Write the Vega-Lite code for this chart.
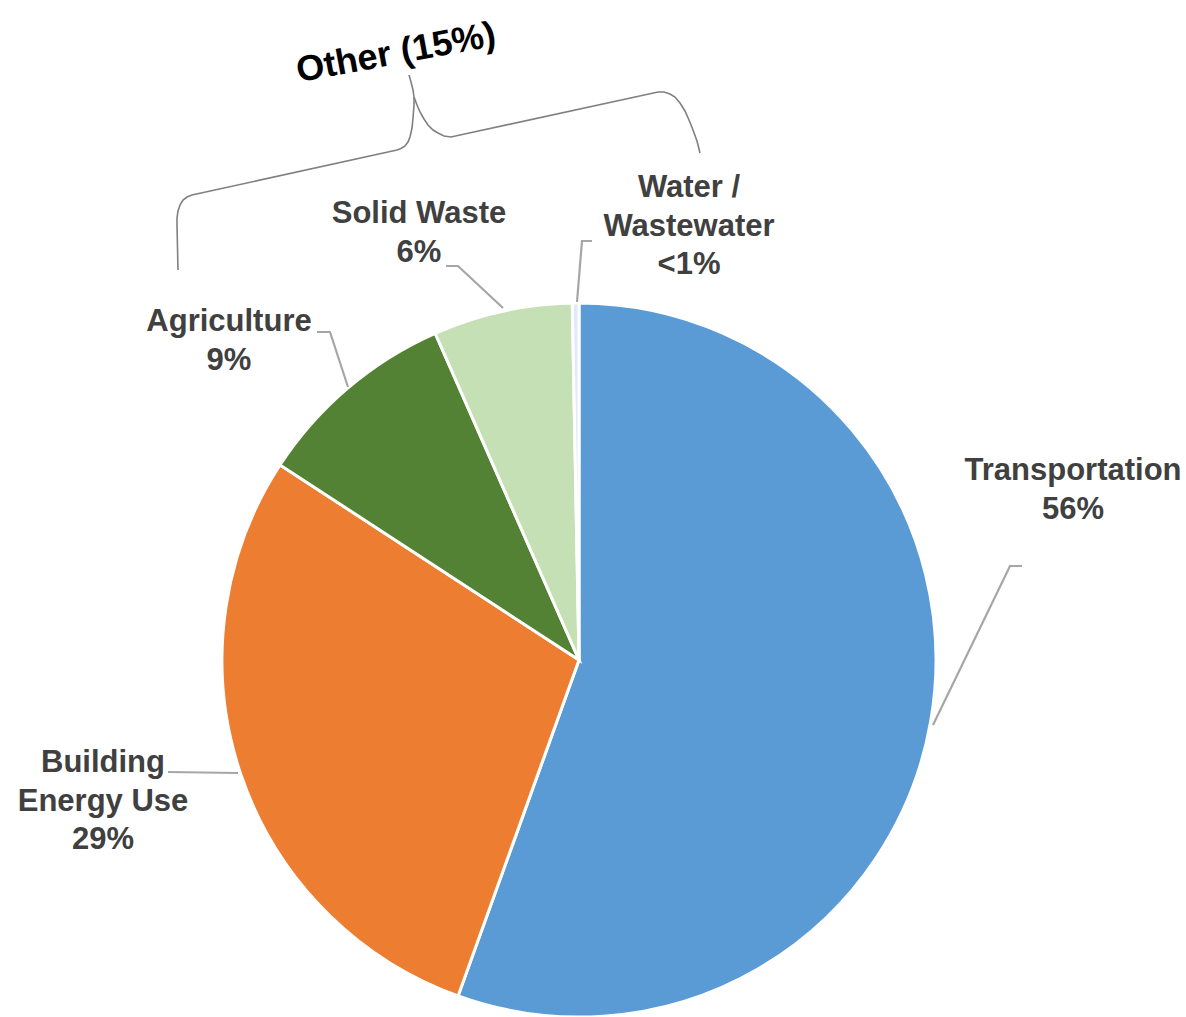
{
  "$schema": "https://vega.github.io/schema/vega-lite/v6.json",
  "autosize": {"type": "none"},
  "width": 1186,
  "height": 1017,
  "padding": 0,
  "background": "white",
  "config": {"view": {"stroke": null}},
  "datasets": {
    "slices": [
      {"sector": "Transportation", "share": 55.5, "rank": 1},
      {"sector": "Building Energy Use", "share": 28.7, "rank": 2},
      {"sector": "Agriculture", "share": 9.2, "rank": 3},
      {"sector": "Solid Waste", "share": 6.3, "rank": 4},
      {"sector": "Water / Wastewater", "share": 0.3, "rank": 5}
    ],
    "labels": [
      {"lines": ["Transportation", "56%"], "x": 1073, "y": 471},
      {"lines": ["Building", "Energy Use", "29%"], "x": 103, "y": 763},
      {"lines": ["Agriculture", "9%"], "x": 229, "y": 322},
      {"lines": ["Solid Waste", "6%"], "x": 419, "y": 214},
      {"lines": ["Water /", "Wastewater", "<1%"], "x": 689, "y": 188}
    ],
    "leaders": [
      {"g": "T", "s": 1, "x": 933, "y": 725},
      {"g": "T", "s": 2, "x": 1010, "y": 566},
      {"g": "T", "s": 3, "x": 1022, "y": 566},
      {"g": "B", "s": 1, "x": 168, "y": 772},
      {"g": "B", "s": 2, "x": 238, "y": 773},
      {"g": "A", "s": 1, "x": 317, "y": 332},
      {"g": "A", "s": 2, "x": 330, "y": 332},
      {"g": "A", "s": 3, "x": 348, "y": 387},
      {"g": "S", "s": 1, "x": 446, "y": 266},
      {"g": "S", "s": 2, "x": 458, "y": 266},
      {"g": "S", "s": 3, "x": 503, "y": 308},
      {"g": "W", "s": 1, "x": 592, "y": 241},
      {"g": "W", "s": 2, "x": 582, "y": 241},
      {"g": "W", "s": 3, "x": 577, "y": 302}
    ],
    "brace": [
      {"g": "L", "s": 1, "x": 178, "y": 270},
      {"g": "L", "s": 2, "x": 177, "y": 225},
      {"g": "L", "s": 3, "x": 177, "y": 218},
      {"g": "L", "s": 4, "x": 178, "y": 211},
      {"g": "L", "s": 5, "x": 180, "y": 205},
      {"g": "L", "s": 6, "x": 183, "y": 200},
      {"g": "L", "s": 7, "x": 187, "y": 197},
      {"g": "L", "s": 8, "x": 192, "y": 195},
      {"g": "L", "s": 9, "x": 397, "y": 150},
      {"g": "L", "s": 10, "x": 401, "y": 148.5},
      {"g": "L", "s": 11, "x": 405, "y": 146},
      {"g": "L", "s": 12, "x": 408, "y": 142},
      {"g": "L", "s": 13, "x": 410, "y": 137},
      {"g": "L", "s": 14, "x": 412, "y": 128},
      {"g": "L", "s": 15, "x": 413, "y": 118},
      {"g": "L", "s": 16, "x": 414, "y": 105},
      {"g": "L", "s": 17, "x": 414, "y": 97},
      {"g": "L", "s": 18, "x": 413, "y": 90},
      {"g": "L", "s": 19, "x": 411, "y": 82},
      {"g": "L", "s": 20, "x": 409, "y": 75},
      {"g": "R", "s": 1, "x": 414, "y": 97},
      {"g": "R", "s": 2, "x": 417, "y": 105},
      {"g": "R", "s": 3, "x": 420, "y": 112},
      {"g": "R", "s": 4, "x": 424, "y": 119},
      {"g": "R", "s": 5, "x": 428, "y": 125},
      {"g": "R", "s": 6, "x": 433, "y": 130},
      {"g": "R", "s": 7, "x": 438, "y": 133},
      {"g": "R", "s": 8, "x": 444, "y": 136},
      {"g": "R", "s": 9, "x": 451, "y": 137},
      {"g": "R", "s": 10, "x": 658, "y": 92},
      {"g": "R", "s": 11, "x": 664, "y": 92},
      {"g": "R", "s": 12, "x": 670, "y": 94},
      {"g": "R", "s": 13, "x": 675, "y": 97},
      {"g": "R", "s": 14, "x": 680, "y": 103},
      {"g": "R", "s": 15, "x": 685, "y": 111},
      {"g": "R", "s": 16, "x": 689, "y": 120},
      {"g": "R", "s": 17, "x": 693, "y": 130},
      {"g": "R", "s": 18, "x": 697, "y": 141},
      {"g": "R", "s": 19, "x": 700, "y": 153}
    ],
    "title": [{"text": "Other (15%)", "x": 396, "y": 53}]
  },
  "layer": [
    {
      "data": {"name": "slices"},
      "mark": {"type": "arc", "outerRadius": 357, "stroke": "white", "strokeWidth": 3},
      "encoding": {
        "x": {"datum": 579, "type": "quantitative", "scale": {"domain": [0, 1186], "nice": false, "zero": false}, "axis": null},
        "y": {"datum": 660, "type": "quantitative", "scale": {"domain": [0, 1017], "nice": false, "zero": false, "reverse": true}, "axis": null},
        "theta": {"field": "share", "type": "quantitative", "stack": true},
        "order": {"field": "rank", "type": "quantitative", "sort": "ascending"},
        "color": {
          "field": "sector", "type": "nominal", "legend": null,
          "scale": {
            "domain": ["Transportation", "Building Energy Use", "Agriculture", "Solid Waste", "Water / Wastewater"],
            "range": ["#5B9BD5", "#ED7D31", "#548235", "#C5E0B4", "#DEEBF7"]
          }
        }
      }
    },
    {
      "data": {"name": "leaders"},
      "mark": {"type": "line", "color": "#A6A6A6", "strokeWidth": 2.2},
      "encoding": {
        "x": {"field": "x", "type": "quantitative"},
        "y": {"field": "y", "type": "quantitative"},
        "detail": {"field": "g"},
        "order": {"field": "s", "type": "quantitative"}
      }
    },
    {
      "data": {"name": "brace"},
      "mark": {"type": "line", "color": "#808080", "strokeWidth": 1.6, "interpolate": "linear"},
      "encoding": {
        "x": {"field": "x", "type": "quantitative"},
        "y": {"field": "y", "type": "quantitative"},
        "detail": {"field": "g"},
        "order": {"field": "s", "type": "quantitative"}
      }
    },
    {
      "data": {"name": "labels"},
      "mark": {"type": "text", "font": "Liberation Sans", "fontWeight": "bold", "fontSize": 31, "color": "#404040", "align": "center", "baseline": "middle", "lineHeight": 38.5},
      "encoding": {
        "x": {"field": "x", "type": "quantitative"},
        "y": {"field": "y", "type": "quantitative"},
        "text": {"field": "lines"}
      }
    },
    {
      "data": {"name": "title"},
      "mark": {"type": "text", "font": "Liberation Sans", "fontWeight": "bold", "fontSize": 36, "color": "#000000", "align": "center", "baseline": "middle", "angle": 349.5},
      "encoding": {
        "x": {"field": "x", "type": "quantitative"},
        "y": {"field": "y", "type": "quantitative"},
        "text": {"field": "text"}
      }
    }
  ]
}
